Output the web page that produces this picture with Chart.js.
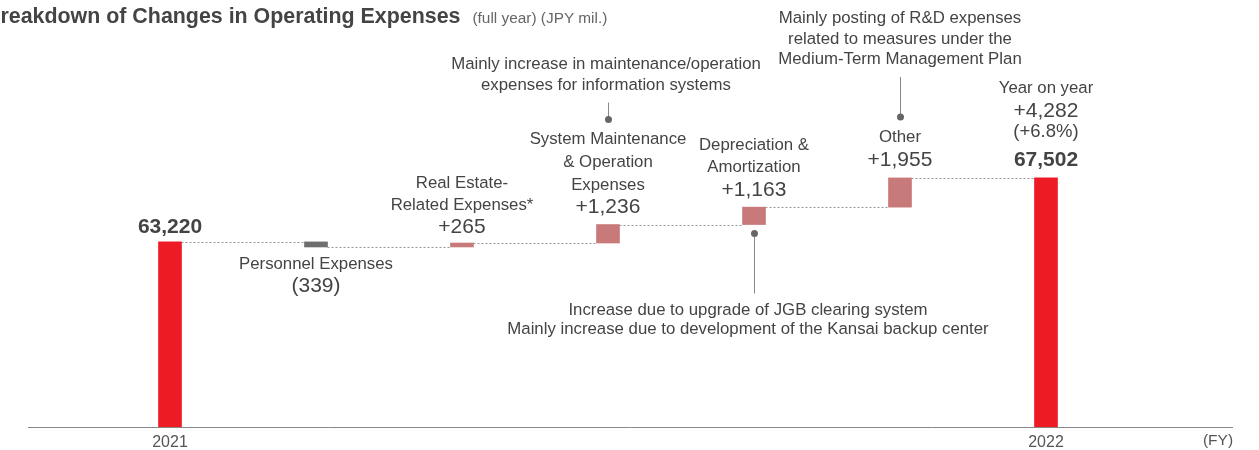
<!DOCTYPE html>
<html>
<head>
<meta charset="utf-8">
<script src="https://cdn.jsdelivr.net/npm/chart.js@4/dist/chart.umd.min.js"></script>
<style>
  html, body { margin: 0; padding: 0; background: #fff; }
  #wrap { position: relative; width: 1259px; height: 450px; overflow: hidden; }
  #title {
    position: absolute; left: -15px; top: 4px; white-space: nowrap;
    font-family: "Liberation Sans", Arial, sans-serif; color: #444;
    font-size: 21.4px; font-weight: bold;
  }
  #title span { font-size: 15.4px; font-weight: normal; color: #666; margin-left: 12px; }
  canvas { position: absolute; left: 0; top: 0; }
</style>
</head>
<body>
<div id="wrap">
  <canvas id="chart" width="1259" height="450"></canvas>
  <div id="title">Breakdown of Changes in Operating Expenses<span>(full year) (JPY mil.)</span></div>
</div>
<script>
'use strict';

/* ── Data ───────────────────────────────────────────── */
const YEAR_LABELS = ['2021', '2022'];
const START_TOTAL = 63220;
const END_TOTAL   = 67502;
const YOY_PCT     = 6.8;

const CHANGE_NAMES = [
  ['Personnel Expenses'],
  ['Real Estate-', 'Related Expenses*'],
  ['System Maintenance', '& Operation', 'Expenses'],
  ['Depreciation &', 'Amortization'],
  ['Other']
];
const CHANGE_VALUES = [-339, 265, 1236, 1163, 1955];

const NOTE_SYSTEM = ['Mainly increase in maintenance/operation', 'expenses for information systems'];
const NOTE_DEPREC = ['Increase due to upgrade of JGB clearing system',
                     'Mainly increase due to development of the Kansai backup center'];
const NOTE_OTHER  = ['Mainly posting of R&D expenses', 'related to measures under the',
                     'Medium-Term Management Plan'];

/* ── Colours / fonts ────────────────────────────────── */
const RED   = '#ED1C24';
const PINK  = '#C87A7A';
const GREY  = '#6E6E70';
const TEXT  = '#444';
const FONT  = '"Liberation Sans", Arial, sans-serif';

/* ── Build floating bars ────────────────────────────── */
const bars = [{ x: 0, y: [0, START_TOTAL] }];
const colors = [RED];
const levels = [START_TOTAL];          // running total after each bar
let running = START_TOTAL;
CHANGE_VALUES.forEach((v, i) => {
  bars.push({ x: i + 1, y: [running, running + v] });
  colors.push(v < 0 ? GREY : PINK);
  running += v;
  levels.push(running);
});
bars.push({ x: CHANGE_VALUES.length + 1, y: [0, END_TOTAL] });
colors.push(RED);
levels.push(END_TOTAL);

const fmt = n => Math.abs(n).toLocaleString('en-US');
const fmtChange = n => n < 0 ? '(' + fmt(n) + ')' : '+' + fmt(n);

/* ── Drawing helpers ────────────────────────────────── */
function text(ctx, str, x, y, size, bold, color) {
  ctx.font = (bold ? 'bold ' : '') + size + 'px ' + FONT;
  ctx.fillStyle = color || TEXT;
  ctx.textAlign = 'center';
  ctx.textBaseline = 'middle';
  ctx.fillText(str, x, y);
}

function pointer(ctx, x, y1, y2, dotY) {
  ctx.save();
  ctx.strokeStyle = '#888';
  ctx.lineWidth = 1;
  ctx.beginPath();
  ctx.moveTo(x + 0.5, y1);
  ctx.lineTo(x + 0.5, y2);
  ctx.stroke();
  ctx.fillStyle = '#666';
  ctx.beginPath();
  ctx.arc(x + 0.5, dotY, 3.5, 0, Math.PI * 2);
  ctx.fill();
  ctx.restore();
}

/* dotted connectors between consecutive bars */
const connectors = {
  id: 'connectors',
  beforeDatasetsDraw(chart) {
    const { ctx } = chart;
    const meta = chart.getDatasetMeta(0);
    const ys = chart.scales.y;
    ctx.save();
    ctx.strokeStyle = '#999';
    ctx.lineWidth = 1;
    ctx.setLineDash([2, 2]);
    for (let i = 0; i < meta.data.length - 1; i++) {
      const a = meta.data[i], b = meta.data[i + 1];
      const y = Math.round(ys.getPixelForValue(levels[i])) + 0.5;
      ctx.beginPath();
      ctx.moveTo(a.x + a.width / 2, y);
      ctx.lineTo(b.x - b.width / 2, y);
      ctx.stroke();
    }
    ctx.restore();
  }
};

/* value / category labels and notes */
const labels = {
  id: 'labels',
  afterDatasetsDraw(chart) {
    const { ctx } = chart;
    const meta = chart.getDatasetMeta(0);
    const el = meta.data;
    const top = i => Math.min(el[i].y, el[i].base);
    const bot = i => Math.max(el[i].y, el[i].base);
    const CAT = 16.8, VAL = 21;

    // opening total
    text(ctx, fmt(START_TOTAL), el[0].x, top(0) - 15, VAL, true);

    // personnel (decrease: labels below)
    text(ctx, CHANGE_NAMES[0][0], el[1].x, bot(1) + 17, CAT);
    text(ctx, fmtChange(CHANGE_VALUES[0]), el[1].x, bot(1) + 39, VAL);

    // real estate
    text(ctx, CHANGE_NAMES[1][0], el[2].x, top(2) - 60, CAT);
    text(ctx, CHANGE_NAMES[1][1], el[2].x, top(2) - 38, CAT);
    text(ctx, fmtChange(CHANGE_VALUES[1]), el[2].x, top(2) - 16, VAL);

    // system maintenance
    const t3 = top(3);
    text(ctx, CHANGE_NAMES[2][0], el[3].x, t3 - 85, CAT);
    text(ctx, CHANGE_NAMES[2][1], el[3].x, t3 - 62, CAT);
    text(ctx, CHANGE_NAMES[2][2], el[3].x, t3 - 39, CAT);
    text(ctx, fmtChange(CHANGE_VALUES[2]), el[3].x, t3 - 17, VAL);
    pointer(ctx, el[3].x, t3 - 122, t3 - 105, t3 - 105);
    text(ctx, NOTE_SYSTEM[0], el[3].x - 2, t3 - 160, CAT);
    text(ctx, NOTE_SYSTEM[1], el[3].x - 2, t3 - 139, CAT);

    // depreciation
    const t4 = top(4), b4 = bot(4);
    text(ctx, CHANGE_NAMES[3][0], el[4].x, t4 - 62, CAT);
    text(ctx, CHANGE_NAMES[3][1], el[4].x, t4 - 40, CAT);
    text(ctx, fmtChange(CHANGE_VALUES[3]), el[4].x, t4 - 17, VAL);
    pointer(ctx, el[4].x, b4 + 9, b4 + 69, b4 + 9);
    text(ctx, NOTE_DEPREC[0], el[4].x - 6, b4 + 86, CAT);
    text(ctx, NOTE_DEPREC[1], el[4].x - 6, b4 + 105, CAT);

    // other
    const t5 = top(5);
    text(ctx, CHANGE_NAMES[4][0], el[5].x, t5 - 41, CAT);
    text(ctx, fmtChange(CHANGE_VALUES[4]), el[5].x, t5 - 18, VAL);
    pointer(ctx, el[5].x, t5 - 101, t5 - 61, t5 - 61);
    text(ctx, NOTE_OTHER[0], el[5].x, t5 - 160, CAT);
    text(ctx, NOTE_OTHER[1], el[5].x, t5 - 139, CAT);
    text(ctx, NOTE_OTHER[2], el[5].x, t5 - 119, CAT);

    // closing total
    const t6 = top(6);
    text(ctx, 'Year on year', el[6].x, t6 - 90, CAT);
    text(ctx, fmtChange(END_TOTAL - START_TOTAL), el[6].x, t6 - 67, VAL);
    text(ctx, '(+' + YOY_PCT.toFixed(1) + '%)', el[6].x, t6 - 46, 18.5);
    text(ctx, fmt(END_TOTAL), el[6].x, t6 - 18, VAL, true);

    // axis unit
    const xs = chart.scales.x;
    text(ctx, '(FY)', xs.right - 14, xs.top + 14, 15.5, false, '#555');
  }
};

/* ── Chart ──────────────────────────────────────────── */
new Chart(document.getElementById('chart'), {
  type: 'bar',
  data: {
    datasets: [{
      data: bars,
      backgroundColor: colors,
      barThickness: 23,
      borderWidth: 0
    }]
  },
  options: {
    responsive: false,
    animation: false,
    layout: { padding: { left: 28, right: 27, top: 0, bottom: 0 } },
    plugins: { legend: { display: false }, tooltip: { enabled: false } },
    scales: {
      x: {
        type: 'linear',
        offset: false,
        min: -0.9726,
        max: 7.274,
        grid: { display: false, drawTicks: false },
        border: { display: true, color: '#888', width: 1 },
        afterBuildTicks: axis => { axis.ticks = [{ value: 0 }, { value: 6 }]; },
        afterFit: axis => { axis.height = 23; },
        ticks: {
          padding: 6,
          color: '#555',
          font: { family: FONT, size: 16 },
          callback: v => v === 0 ? YEAR_LABELS[0] : YEAR_LABELS[1]
        }
      },
      y: {
        display: false,
        min: 50840,
        max: 79400
      }
    }
  },
  plugins: [connectors, labels]
});
</script>
</body>
</html>
